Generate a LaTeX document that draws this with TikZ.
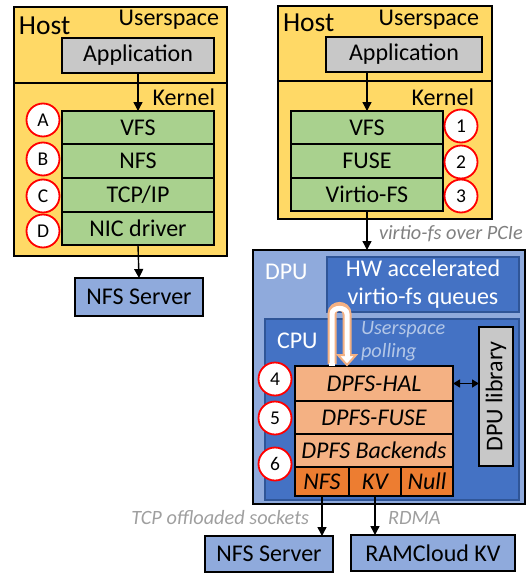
\documentclass[tikz,border=0pt]{standalone}
\usepackage{fontspec}
\setmainfont{Carlito}
\usetikzlibrary{arrows.meta}
\definecolor{hostY}{HTML}{FFD966}
\definecolor{appG}{HTML}{C8C8C8}
\definecolor{grn}{HTML}{A9D18E}
\definecolor{lblue}{HTML}{8FAADC}
\definecolor{mblue}{HTML}{4472C4}
\definecolor{dblue}{HTML}{2F5597}
\definecolor{lorange}{HTML}{F4B183}
\definecolor{dorange}{HTML}{ED7D31}
\definecolor{polltxt}{HTML}{B4C7E7}
\tikzset{
  every node/.style={inner sep=0pt, outer sep=0pt},
  bx/.style={draw=black, line width=1.4pt, anchor=north west, font=\fontsize{24}{28}\selectfont},
  ibx/.style={bx, font=\fontsize{24}{28}\selectfont\itshape},
  num/.style={circle, draw=red, line width=1.8pt, fill=white, minimum size=33pt, font=\fontsize{19.5}{23}\selectfont},
  lbl/.style={font=\fontsize{24}{28}\selectfont},
  arr/.style={line width=1.4pt, -{Triangle[width=9pt,length=9pt]}},
  note/.style={font=\fontsize{20.3}{24}\selectfont\itshape}
}
\begin{document}
\begin{tikzpicture}[x=1pt,y=-1pt]
\useasboundingbox (0,0) rectangle (532,573);
% ---------- Left host ----------
\node[bx, fill=hostY, minimum width=213pt, minimum height=249pt] (hostL) at (14,7) {};
\draw[line width=1.4pt] (14,83) -- (227,83);
\node[anchor=west, font=\fontsize{27.5}{32}\selectfont] (hostLt) at (19,26) {Host};
\node[anchor=east, lbl] (usrL) at (219,20) {Userspace};
\node[anchor=east, lbl] (kerL) at (215,97) {Kernel};
\node[bx, fill=appG, minimum width=152pt, minimum height=35pt] (appL) at (62,38) {Application};
\node[bx, fill=grn, minimum width=152pt, minimum height=33pt] (vfsL) at (62,111) {VFS};
\node[bx, fill=grn, minimum width=152pt, minimum height=34pt] (nfsL) at (62,144) {NFS};
\node[bx, fill=grn, minimum width=152pt, minimum height=34pt] (tcpL) at (62,178) {TCP/IP};
\node[bx, fill=grn, minimum width=152pt, minimum height=33pt] (nicL) at (62,212) {NIC driver};
\node[num] (cA) at (43,120) {A};
\node[num] (cB) at (43,159) {B};
\node[num] (cC) at (43,196) {C};
\node[num] (cD) at (43,231) {D};
\node[bx, fill=lblue, minimum width=128pt, minimum height=38pt] (srvL) at (75,278) {NFS Server};
\draw[arr] (appL.south) -- (vfsL.north);
\draw[arr] (nicL.south) -- (srvL.north);
% ---------- Right host ----------
\node[bx, fill=hostY, minimum width=214pt, minimum height=213pt] (hostR) at (278,6) {};
\draw[line width=1.4pt] (278,81) -- (492,81);
\node[anchor=west, font=\fontsize{27.5}{32}\selectfont] (hostRt) at (283,23) {Host};
\node[anchor=east, lbl] (usrR) at (479,20) {Userspace};
\node[anchor=east, lbl] (kerR) at (474,97) {Kernel};
\node[bx, fill=appG, minimum width=156pt, minimum height=35pt] (appR) at (326,37) {Application};
\node[bx, fill=grn, minimum width=152pt, minimum height=33pt] (vfsR) at (291,111) {VFS};
\node[bx, fill=grn, minimum width=152pt, minimum height=34pt] (fuseR) at (291,144) {FUSE};
\node[bx, fill=grn, minimum width=152pt, minimum height=33pt] (virR) at (291,178) {Virtio-FS};
\node[num] (c1) at (461,126) {1};
\node[num] (c2) at (461,162) {2};
\node[num] (c3) at (461,196) {3};
\draw[arr] (vfsR.north |- appR.south) -- (vfsR.north);
% ---------- DPU ----------
\node[bx, fill=lblue, minimum width=272pt, minimum height=254pt] (dpu) at (253,250) {};
\draw[arr] (virR.south) -- (virR.south |- dpu.north);
\node[anchor=west, note, text=gray] (pcie) at (379,234) {virtio-fs over PCIe};
\node[anchor=west, lbl, text=white] (dput) at (265,272) {DPU};
\node[bx, draw=dblue, fill=mblue, minimum width=192pt, minimum height=55pt, text=white, align=center] (hw) at (327,257) {HW accelerated\\[0pt]virtio-fs queues};
\node[bx, draw=dblue, fill=mblue, minimum width=254pt, minimum height=181pt] (cpu) at (265,319) {};
\node[anchor=west, lbl, text=white] (cput) at (277,341) {CPU};
\node[anchor=west, note, text=polltxt, align=left] (poll) at (361,341) {Userspace\\[-1pt]polling};
\node[bx, fill=appG, minimum width=34pt, minimum height=139pt] (lib) at (479,327) {};
\node[lbl, rotate=90] (libt) at (lib.center) {DPU library};
\node[ibx, fill=lorange, minimum width=158pt, minimum height=35pt] (hal) at (295,366) {DPFS-HAL};
\node[ibx, fill=lorange, minimum width=158pt, minimum height=33pt] (dfuse) at (295,401) {DPFS-FUSE};
\node[ibx, fill=lorange, minimum width=158pt, minimum height=33pt] (back) at (295,434) {DPFS Backends};
\node[ibx, fill=dorange, minimum width=54pt, minimum height=29pt] (bnfs) at (295,467) {NFS};
\node[ibx, fill=dorange, minimum width=52pt, minimum height=29pt] (bkv) at (349,467) {KV};
\node[ibx, fill=dorange, minimum width=52pt, minimum height=29pt] (bnull) at (401,467) {Null};
\node[num] (c4) at (275,379) {4};
\node[num] (c5) at (275,418) {5};
\node[num] (c6) at (275,464) {6};
\draw[line width=1.4pt, {Triangle[width=8pt,length=7pt]}-{Triangle[width=8pt,length=7pt]}] (hal.east) -- (hal.east -| lib.west);
% polling U-turn block arrow
\coordinate (uA) at (332,364);
\coordinate (uB) at (347,355);
\draw[line width=9pt, draw=dorange!60] (uA) -- (332,314) .. controls (332,304) and (347,304) .. (347,314) -- (uB);
\draw[line width=5pt, draw=white] (332,365) -- (332,314) .. controls (332,306.5) and (347,306.5) .. (347,314) -- (uB);
\draw[line width=2pt, draw=dorange!60, fill=white, line join=miter] (338,355) -- (356,355) -- (347,365) -- cycle;
\draw[line width=5pt, draw=white] (347,350) -- (347,357);
\fill[white] (329,363) rectangle (335,366);
% bottom servers
\node[bx, fill=lblue, minimum width=128pt, minimum height=36pt] (srvR) at (205,536) {NFS Server};
\node[bx, fill=lblue, minimum width=164pt, minimum height=36pt] (ram) at (351,535) {RAMCloud KV};
\draw[arr] (bnfs.south -| 322,0) -- (322,536);
\draw[arr] (bkv.south -| 375,0) -- (375,535);
\node[anchor=east, note, text=gray!75] (tcpo) at (309,518) {TCP offloaded sockets};
\node[anchor=west, note, text=gray!75] (rdma) at (388,518) {RDMA};
\end{tikzpicture}
\end{document}
